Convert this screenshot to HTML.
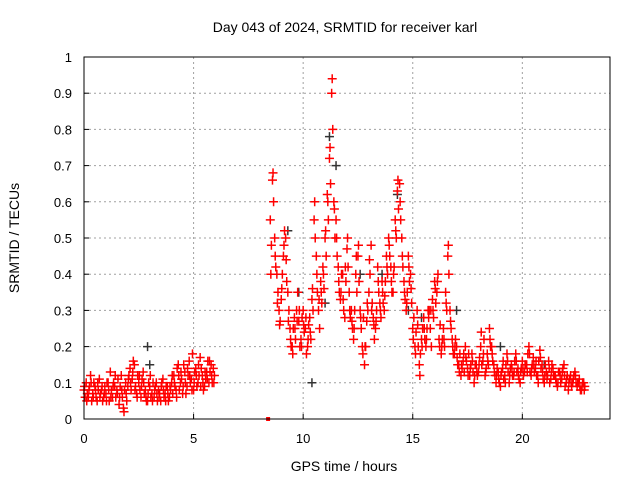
<!DOCTYPE html>
<html><head><meta charset="utf-8"><style>
body{margin:0;background:#fff}
svg{display:block;font-family:"Liberation Sans",sans-serif}
</style></head><body>
<svg id="chart" width="640" height="480">
<rect width="640" height="480" fill="#fff"/>
<text x="345" y="32" font-size="14" text-anchor="middle">Day 043 of 2024, SRMTID for receiver karl</text>
<text x="344" y="471" font-size="14" text-anchor="middle">GPS time / hours</text>
<text transform="translate(19,238) rotate(-90)" font-size="14" text-anchor="middle">SRMTID / TECUs</text>
<g id="grid"></g><g id="ticks"></g><g id="marks"></g>
<rect x="84" y="57" width="526" height="362" fill="none" stroke="#000" stroke-width="1"/>
</svg>
<script>
const xTicks=[0,5,10,15,20];
const yTicks=[0,0.1,0.2,0.3,0.4,0.5,0.6,0.7,0.8,0.9,1];
const yTickLabels=["0","0.1","0.2","0.3","0.4","0.5","0.6","0.7","0.8","0.9","1"];
const seg1Start=0, seg2Start=8.5, step=0.1;
const red1A=[0.08,0.1,0.06,0.12,0.07,0.09,0.05,0.11,0.08,0.06,0.07,0.1,0.13,0.06,0.09,0.08,0.04,0.12,0.03,0.1,0.09,0.14,0.11,0.15,0.07,0.1,0.06,0.13,0.08,0.05,0.09,0.07,0.06,0.1,0.08,0.05,0.11,0.07,0.09,0.06,0.1,0.12,0.08,0.15,0.1,0.07,0.13,0.09,0.16,0.11,0.08,0.14,0.1,0.17,0.12,0.09,0.13,0.1,0.15,0.14];
const red1B=[0.06,0.07,0.09,0.05,0.1,0.06,0.08,0.07,0.05,0.09,0.1,0.05,0.08,0.1,0.06,0.11,0.09,0.06,0.08,0.05,0.12,0.08,0.16,0.09,0.12,0.08,0.11,0.07,0.05,0.1,0.06,0.1,0.09,0.05,0.07,0.1,0.06,0.09,0.05,0.08,0.07,0.09,0.14,0.08,0.11,0.15,0.07,0.12,0.1,0.18,0.13,0.09,0.12,0.14,0.08,0.11,0.16,0.13,0.1,0.12];
const red1C=[0.09,0.05,0.08,0.1,0.06,0.08,0.1,0.06,0.09,0.07,0.05,0.08,0.06,0.09,0.12,0.07,0.06,0.08,0.02,0.07,0.11,0.1,0.13,0.08,0.06,0.12,0.09,0.1,0.06,0.07,0.12,0.05,0.08,0.07,0.06,0.09,0.08,0.05,0.07,0.09,0.12,0.1,0.06,0.12,0.13,0.09,0.1,0.14,0.12,0.08,0.1,0.12,0.15,0.09,0.1,0.13,0.11,0.16,0.12,0.1];
const red2A=[0.55,0.66,0.5,0.4,0.3,0.33,0.45,0.5,0.35,0.25,0.2,0.28,0.3,0.27,0.22,0.3,0.25,0.2,0.28,0.33,0.55,0.45,0.3,0.38,0.42,0.5,0.62,0.72,0.9,0.6,0.55,0.42,0.33,0.4,0.28,0.47,0.35,0.3,0.22,0.4,0.45,0.3,0.2,0.15,0.27,0.35,0.48,0.28,0.25,0.42,0.32,0.38,0.3,0.45,0.5,0.42,0.35,0.55,0.63,0.65,0.5,0.38,0.3,0.45,0.4,0.25,0.2,0.3,0.15,0.22,0.28,0.2,0.3,0.25,0.33,0.38,0.35,0.22,0.18,0.25,0.35,0.45,0.3,0.22,0.18,0.2,0.15,0.12,0.16,0.2,0.14,0.12,0.18,0.1,0.15,0.13,0.2,0.16,0.12,0.18,0.25,0.2,0.15,0.1,0.13,0.09,0.14,0.12,0.18,0.1,0.15,0.12,0.18,0.14,0.1,0.16,0.13,0.15,0.2,0.12,0.17,0.14,0.12,0.19,0.15,0.1,0.13,0.16,0.11,0.14,0.12,0.09,0.13,0.11,0.15,0.1,0.08,0.12,0.1,0.13,0.09,0.11,0.08,0.1];
const red2B=[0.48,0.6,0.42,0.35,0.27,0.4,0.52,0.38,0.3,0.2,0.25,0.22,0.35,0.2,0.28,0.24,0.18,0.26,0.22,0.3,0.5,0.35,0.25,0.32,0.36,0.45,0.55,0.65,0.8,0.5,0.45,0.35,0.4,0.3,0.38,0.42,0.28,0.25,0.3,0.35,0.38,0.25,0.28,0.2,0.3,0.4,0.32,0.22,0.3,0.35,0.28,0.32,0.38,0.4,0.45,0.35,0.42,0.5,0.58,0.55,0.42,0.33,0.35,0.38,0.32,0.28,0.24,0.2,0.18,0.25,0.22,0.25,0.3,0.2,0.28,0.32,0.4,0.26,0.22,0.2,0.3,0.4,0.25,0.18,0.22,0.15,0.18,0.14,0.13,0.16,0.18,0.15,0.13,0.15,0.12,0.17,0.15,0.22,0.14,0.15,0.2,0.16,0.12,0.14,0.1,0.13,0.11,0.15,0.13,0.14,0.12,0.16,0.13,0.11,0.14,0.12,0.15,0.18,0.13,0.15,0.13,0.12,0.16,0.14,0.11,0.15,0.12,0.1,0.15,0.12,0.1,0.13,0.1,0.14,0.09,0.12,0.11,0.09,0.12,0.1,0.1,0.08,0.1,0.09];
const red2C=[0.4,0.68,0.45,0.32,0.26,0.36,0.48,0.44,0.27,0.22,0.18,0.25,0.27,0.3,0.2,0.26,0.28,0.22,0.24,0.36,0.6,0.4,0.33,0.35,0.4,0.52,0.6,0.75,0.94,0.58,0.5,0.38,0.35,0.33,0.42,0.5,0.3,0.27,0.25,0.45,0.48,0.28,0.18,0.2,0.32,0.44,0.3,0.26,0.27,0.38,0.3,0.35,0.34,0.42,0.48,0.38,0.4,0.52,0.66,0.6,0.45,0.35,0.32,0.42,0.36,0.22,0.18,0.26,0.12,0.2,0.25,0.22,0.28,0.3,0.3,0.36,0.38,0.2,0.2,0.22,0.32,0.48,0.27,0.2,0.2,0.17,0.13,0.15,0.18,0.17,0.12,0.14,0.16,0.12,0.13,0.15,0.24,0.18,0.13,0.16,0.22,0.18,0.13,0.12,0.11,0.12,0.16,0.1,0.16,0.12,0.14,0.13,0.16,0.12,0.13,0.14,0.15,0.13,0.18,0.14,0.15,0.16,0.1,0.17,0.13,0.12,0.11,0.14,0.13,0.12,0.11,0.1,0.12,0.13,0.12,0.11,0.1,0.1,0.11,0.12,0.1,0.09,0.09,0.08];
const blackT=[2.9,3.0,9.3,9.8,10.4,11.0,11.2,11.5,12.6,13.6,14.3,14.8,15.4,17.0,19.0,21.0];
const blackV=[0.2,0.15,0.52,0.35,0.1,0.32,0.78,0.7,0.4,0.4,0.62,0.3,0.28,0.3,0.2,0.15];
const zeroT=[8.4], zeroV=[0];
const X=t=>84+t*(526/24), Y=v=>419-v*362;
const NS='http://www.w3.org/2000/svg';
const grid=document.getElementById('grid'),ticks=document.getElementById('ticks'),marks=document.getElementById('marks');
function mk(tag,attrs,parent){const e=document.createElementNS(NS,tag);for(const k in attrs)e.setAttribute(k,attrs[k]);parent.appendChild(e);return e;}
xTicks.forEach(t=>{
 const g=mk('line',{x1:X(t),x2:X(t),y1:57,y2:419,stroke:'#a0a0a0','stroke-dasharray':'2,3'},grid);
 
 
 const tx=mk('text',{x:X(t),y:443,'font-size':13,'text-anchor':'middle'},ticks);tx.textContent=t;
 
 
 mk('line',{x1:X(t),x2:X(t),y1:419,y2:414,stroke:'#000'},ticks);
});
yTicks.forEach((v,i)=>{
 const g=mk('line',{x1:84,x2:610,y1:Y(v),y2:Y(v),stroke:'#a0a0a0','stroke-dasharray':'2,3'},grid);
 
 
 const tx=mk('text',{x:72,y:Y(v)+5,'font-size':13,'text-anchor':'end'},ticks);tx.textContent=yTickLabels[i];
 
 
 mk('line',{x1:84,x2:89,y1:Y(v),y2:Y(v),stroke:'#000'},ticks);
});
function plus(t,v,c){
 const x=X(t),y=Y(v);
 const p=mk('path',{d:`M${x-4.5},${y}h9M${x},${y-4.5}v9`,stroke:c,'stroke-width':1.5,fill:'none'},marks);
 
 
}
blackT.forEach((t,i)=>plus(t,blackV[i],'#333'));
red1A.forEach((v,i)=>plus(seg1Start+i*step,v,'#f00'));
red1B.forEach((v,i)=>plus(seg1Start+i*step+0.05,v,'#f00'));
red1C.forEach((v,i)=>plus(seg1Start+i*step+0.025,v,'#f00'));
red2A.forEach((v,i)=>plus(seg2Start+i*step,v,'#f00'));
red2B.forEach((v,i)=>plus(seg2Start+i*step+0.05,v,'#f00'));
red2C.forEach((v,i)=>plus(seg2Start+i*step+0.025,v,'#f00'));
zeroT.forEach((t,i)=>{const r=mk('rect',{x:X(t)-2,y:Y(zeroV[i])-2,width:4,height:4,fill:'#f00'},marks);
 
 });
</script>
</body></html>
